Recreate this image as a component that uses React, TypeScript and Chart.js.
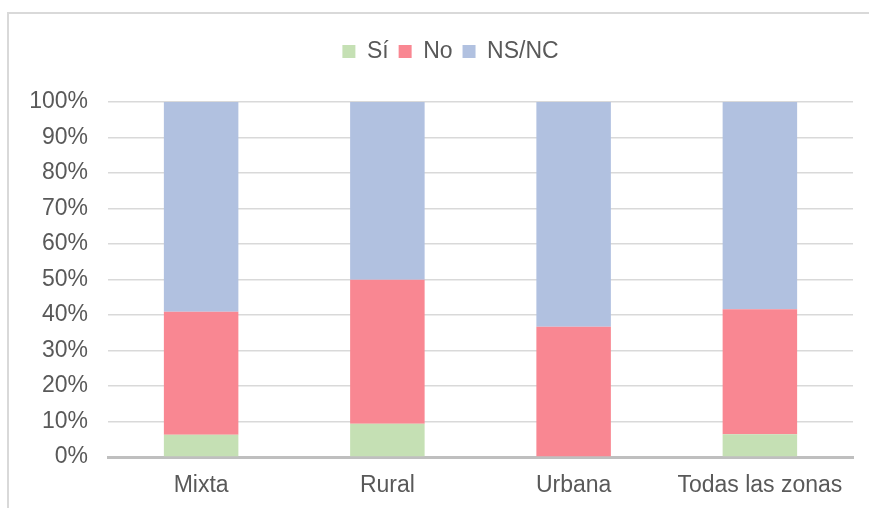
import React, { useEffect, useRef } from "react";
import { Chart, registerables } from "chart.js";

Chart.register(...registerables);

const categories = ["Mixta", "Rural", "Urbana", "Todas las zonas"];
const seriesNames = ["Sí", "No", "NS/NC"];
const siValues = [6.3, 9.4, 0, 6.4];
const noValues = [34.6, 40.5, 36.7, 35.2];
const nsncValues = [59.1, 50.1, 63.3, 58.4];
const seriesColors = ["#c5e0b4", "#f98792", "#b1c1e0"];
const yTicks = [0, 10, 20, 30, 40, 50, 60, 70, 80, 90, 100];

const FONT = "'Liberation Sans', Arial, sans-serif";
const TEXT = "#595959";

export default function App() {
  const ref = useRef<HTMLCanvasElement | null>(null);

  useEffect(() => {
    if (!ref.current) return;
    const legendSpacer = {
      id: "legendSpacer",
      beforeInit(chart: any) {
        const orig = chart.legend.fit;
        chart.legend.fit = function () {
          orig.call(this);
          this.height += 29;
        };
      },
      afterLayout(chart: any) {
        chart.legend.left += 24;
        chart.legend.right += 24;
      },
    };
    const chart = new Chart(ref.current, {
      type: "bar",
      data: {
        labels: categories,
        datasets: [siValues, noValues, nsncValues].map((d, i) => ({
          label: seriesNames[i],
          data: d,
          backgroundColor: seriesColors[i],
          borderWidth: 0,
          barPercentage: 0.4,
          categoryPercentage: 1,
        })),
      },
      options: {
        responsive: false,
        animation: false,
        layout: { padding: { top: 30, left: 0, right: 16, bottom: 0 } },
        plugins: {
          tooltip: { enabled: false },
          legend: {
            position: "top",
            labels: {
              boxWidth: 13,
              boxHeight: 13,
              padding: 10,
              color: TEXT,
              font: { family: FONT, size: 23 },
            },
          },
        },
        scales: {
          x: {
            stacked: true,
            grid: { display: false, drawTicks: false },
            border: { display: true, color: "#bfbfbf", width: 3 },
            ticks: {
              color: TEXT,
              padding: 15,
              font: { family: FONT, size: 23 },
              maxRotation: 0,
            },
            afterFit(scale: any) {
              scale.height = 51;
            },
          },
          y: {
            stacked: true,
            min: 0,
            max: 100,
            grid: { color: "#d9d9d9", lineWidth: 1.5, drawTicks: false },
            border: { display: false },
            afterBuildTicks(scale: any) {
              scale.ticks = yTicks.map((v) => ({ value: v }));
            },
            ticks: {
              color: TEXT,
              padding: 20,
              font: { family: FONT, size: 23 },
              callback: (v: any) => v + "%",
            },
            afterFit(scale: any) {
              scale.width = 108;
            },
          },
        },
      },
      plugins: [legendSpacer],
    });
    return () => chart.destroy();
  }, []);

  return (
    <div
      style={{
        position: "fixed",
        left: 0,
        top: 0,
        width: 869,
        height: 508,
        overflow: "hidden",
        background: "#fff",
      }}
    >
      <div
        style={{
          position: "absolute",
          left: 7,
          top: 12,
          width: 900,
          height: 600,
          borderTop: "2px solid #d9d9d9",
          borderLeft: "2px solid #d9d9d9",
          boxSizing: "border-box",
        }}
      />
      <canvas
        ref={ref}
        width={869}
        height={508}
        style={{ position: "absolute", left: 0, top: 0 }}
      />
    </div>
  );
}
